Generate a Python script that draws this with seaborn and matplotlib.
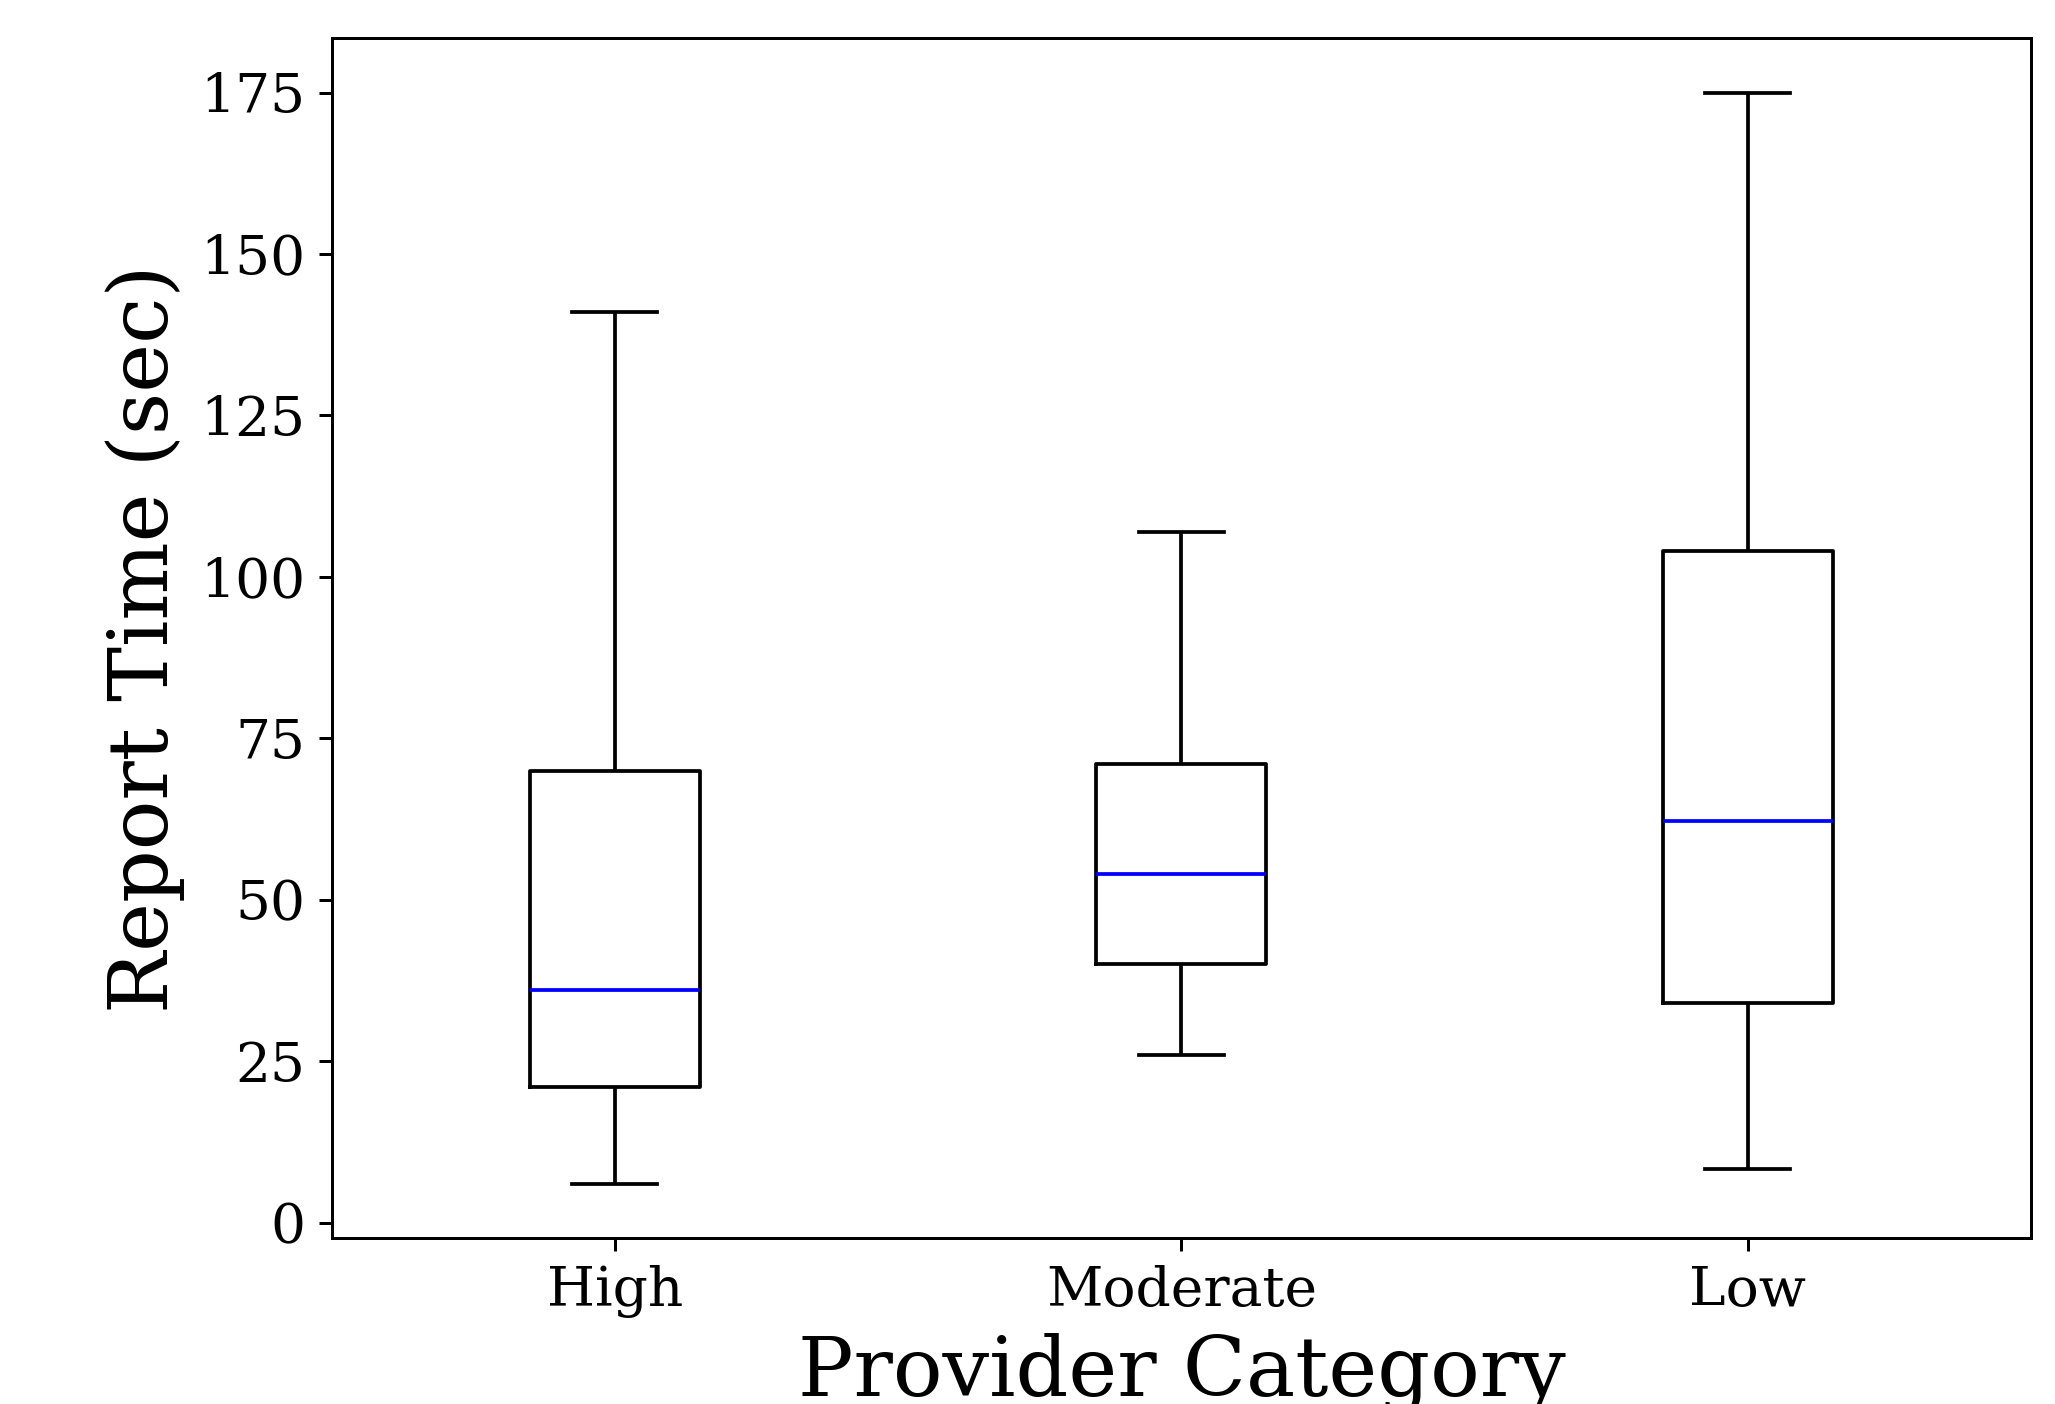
import pandas as pd
import matplotlib
matplotlib.use("Agg")
import matplotlib.pyplot as plt
import seaborn as sns

# Five-number summaries (min, Q1, median, Q3, max)
categories = ["High", "Moderate", "Low"]
high = [6, 21, 36, 70, 141]
moderate = [26, 40, 54, 71, 107]
low = [8.3, 34, 62.2, 104, 175]

df = pd.DataFrame({
    "Provider Category": ["High"] * len(high) + ["Moderate"] * len(moderate) + ["Low"] * len(low),
    "Report Time (sec)": high + moderate + low,
})

plt.rcParams["font.family"] = ["DejaVu Serif"]

fig = plt.figure(figsize=(2055 / 270, 1404 / 270), dpi=270)
ax = fig.add_axes([0.1614, 0.1179, 0.827, 0.855])

sns.boxplot(
    x="Provider Category", y="Report Time (sec)", data=df, order=categories,
    width=0.3, fill=False, color="black", linewidth=1, whis=(0, 100),
    medianprops=dict(color="blue", linewidth=1), ax=ax,
)

ax.set_xlim(-0.5, 2.5)
ax.set_yticks([0, 25, 50, 75, 100, 125, 150, 175])
ax.tick_params(labelsize=14.7)
ax.set_xlabel("Provider Category", fontsize=22)
ax.set_ylabel("Report Time (sec)", fontsize=22)

fig.savefig("out.png", dpi=270)
